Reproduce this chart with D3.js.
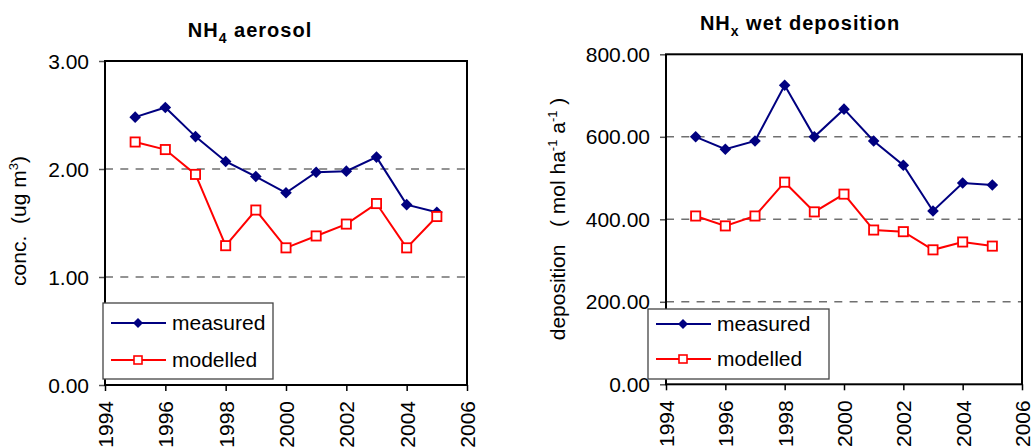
<!DOCTYPE html>
<html><head><meta charset="utf-8">
<script src="https://cdn.jsdelivr.net/npm/d3@7"></script>
<style>
html,body{margin:0;padding:0;background:#fff;}
svg text{font-family:Arial,"Liberation Sans",sans-serif;}
</style></head>
<body>
<svg id="chart" width="1032" height="448"></svg>
<script>
const years = [1995,1996,1997,1998,1999,2000,2001,2002,2003,2004,2005];
const nh4Measured = [2.48,2.57,2.30,2.07,1.93,1.78,1.97,1.98,2.11,1.67,1.60];
const nh4Modelled = [2.25,2.18,1.95,1.29,1.62,1.27,1.38,1.49,1.68,1.27,1.56];
const nhxMeasured = [600,570,590,725,600,667,590,531,420,488,483];
const nhxModelled = [408,384,408,490,418,461,374,370,326,345,335];
const xTicks = [1994,1996,1998,2000,2002,2004,2006];
const nh4Ticks = [0,1,2,3];
const nhxTicks = [0,200,400,600,800];
const seriesNames = ["measured","modelled"];

const svg = d3.select("#chart");
const FONT = 21;

function panel(cfg){
  const g = svg.append("g");
  const x = d3.scaleLinear().domain([1994,2006]).range([cfg.left,cfg.right]);
  const y = d3.scaleLinear().domain([0,cfg.ymax]).range([cfg.bottom,cfg.top]);

  g.append("rect").attr("x",x(1994)).attr("y",y(cfg.ymax))
    .attr("width",x(2006)-x(1994)).attr("height",y(0)-y(cfg.ymax)).attr("fill","#fff");

  g.append("g").selectAll("line").data(cfg.yTicks.filter(t=>t>0 && t<cfg.ymax)).join("line")
    .attr("x1",x(1994)).attr("x2",x(2006)).attr("y1",d=>y(d)).attr("y2",d=>y(d))
    .attr("stroke","#707070").attr("stroke-width",1.4).attr("stroke-dasharray","8,7.3");

  const ya = g.append("g").attr("transform",`translate(${x(1994)},0)`)
    .call(d3.axisLeft(y).tickValues(cfg.yTicks).tickFormat(d3.format(".2f")).tickSizeOuter(0).tickSize(6).tickPadding(10));
  ya.select(".domain").remove();
  ya.selectAll("line").attr("stroke","#555").attr("stroke-width",1.5);
  ya.selectAll("text").attr("font-size",FONT).attr("fill","#000").attr("dy","0.34em");

  const xa = g.append("g").attr("transform",`translate(0,${y(0)})`)
    .call(d3.axisBottom(x).tickValues(xTicks).tickFormat(d3.format("d")).tickSizeOuter(0).tickSize(6).tickPadding(0));
  xa.select(".domain").remove();
  xa.selectAll("line").attr("stroke","#000").attr("stroke-width",1.5);
  xa.selectAll("text").attr("font-size",FONT).attr("fill","#000")
    .attr("text-anchor","end").attr("transform","rotate(-90)")
    .attr("x",-16).attr("y",0).attr("dy","0.35em");

  g.append("rect").attr("x",x(1994)).attr("y",y(cfg.ymax))
    .attr("width",x(2006)-x(1994)).attr("height",y(0)-y(cfg.ymax))
    .attr("fill","none").attr("stroke","#000").attr("stroke-width",2);

  const line = d3.line().x((d,i)=>x(years[i])).y(d=>y(d));
  g.append("path").datum(cfg.measured).attr("d",line).attr("fill","none")
    .attr("stroke","#000080").attr("stroke-width",2);
  g.append("path").datum(cfg.modelled).attr("d",line).attr("fill","none")
    .attr("stroke","#ff0000").attr("stroke-width",2);

  const dia = r => `M0,${-r}L${r},0L0,${r}L${-r},0Z`;
  g.append("g").selectAll("path").data(cfg.measured).join("path")
    .attr("d",dia(5.8)).attr("transform",(d,i)=>`translate(${x(years[i])},${y(d)})`)
    .attr("fill","#000080");
  g.append("g").selectAll("rect").data(cfg.modelled).join("rect")
    .attr("x",(d,i)=>x(years[i])-4.6).attr("y",d=>y(d)-4.6)
    .attr("width",9.2).attr("height",9.2)
    .attr("fill","#fff").attr("stroke","#ff0000").attr("stroke-width",1.8);

  const t = g.append("text").attr("x",cfg.titleX).attr("y",cfg.titleY)
    .attr("text-anchor","middle").attr("font-size",FONT-1).attr("font-weight","bold")
    .attr("letter-spacing","1px");
  t.append("tspan").text("NH");
  t.append("tspan").attr("font-size",14).attr("dy",6).text(cfg.titleSub);
  t.append("tspan").attr("dy",-6).text("\u00a0" + cfg.titleRest);

  const yl = g.append("text").attr("transform",`translate(${cfg.ylabX},${cfg.ylabY}) rotate(-90)`)
    .attr("text-anchor","middle").attr("font-size",FONT);
  cfg.ylabParts.forEach(p=>{
    const ts = yl.append("tspan").text(p.t);
    if(p.sup){ ts.attr("font-size",13).attr("dy",-8); }
    else if(p.after){ ts.attr("dy",8); }
  });

  const L = cfg.legend;
  const lg = g.append("g");
  lg.append("rect").attr("x",L.x).attr("y",L.y).attr("width",L.w).attr("height",L.h)
    .attr("fill","#fff").attr("stroke","#444").attr("stroke-width",1.3);
  seriesNames.forEach((name,i)=>{
    const cy = L.y + L.rows[i];
    const col = i===0 ? "#000080" : "#ff0000";
    lg.append("line").attr("x1",L.x+8).attr("x2",L.x+63).attr("y1",cy).attr("y2",cy)
      .attr("stroke",col).attr("stroke-width",2);
    const mx = L.x+35;
    if(i===0){
      lg.append("path").attr("d",dia(5)).attr("transform",`translate(${mx},${cy})`).attr("fill",col);
    } else {
      lg.append("rect").attr("x",mx-4).attr("y",cy-4).attr("width",8).attr("height",8)
        .attr("fill","#fff").attr("stroke",col).attr("stroke-width",1.6);
    }
    lg.append("text").attr("x",L.x+69).attr("y",cy).attr("dy","0.35em")
      .attr("font-size",FONT).attr("fill","#000").text(name);
  });
}

panel({
  left:105,right:467,top:61,bottom:385,ymax:3,yTicks:nh4Ticks,
  measured:nh4Measured,modelled:nh4Modelled,
  titleX:250,titleY:37,titleSub:"4",titleRest:"aerosol",
  ylabX:26,ylabY:221,
  ylabParts:[{t:"conc.\u00a0\u00a0(ug m"},{t:"3",sup:true},{t:")",after:true}],
  legend:{x:103,y:303,w:170,h:76,rows:[20,57]}
});

panel({
  left:666,right:1022,top:54.3,bottom:384.3,ymax:800,yTicks:nhxTicks,
  measured:nhxMeasured,modelled:nhxModelled,
  titleX:800,titleY:30,titleSub:"x",titleRest:"wet deposition",
  ylabX:565,ylabY:219,
  ylabParts:[{t:"deposition\u00a0\u00a0\u00a0(\u00a0mol ha"},{t:"-1",sup:true},{t:"\u00a0a",after:true},{t:"-1",sup:true},{t:"\u00a0)",after:true}],
  legend:{x:648,y:309,w:181,h:70,rows:[15,50]}
});
</script>
</body></html>
